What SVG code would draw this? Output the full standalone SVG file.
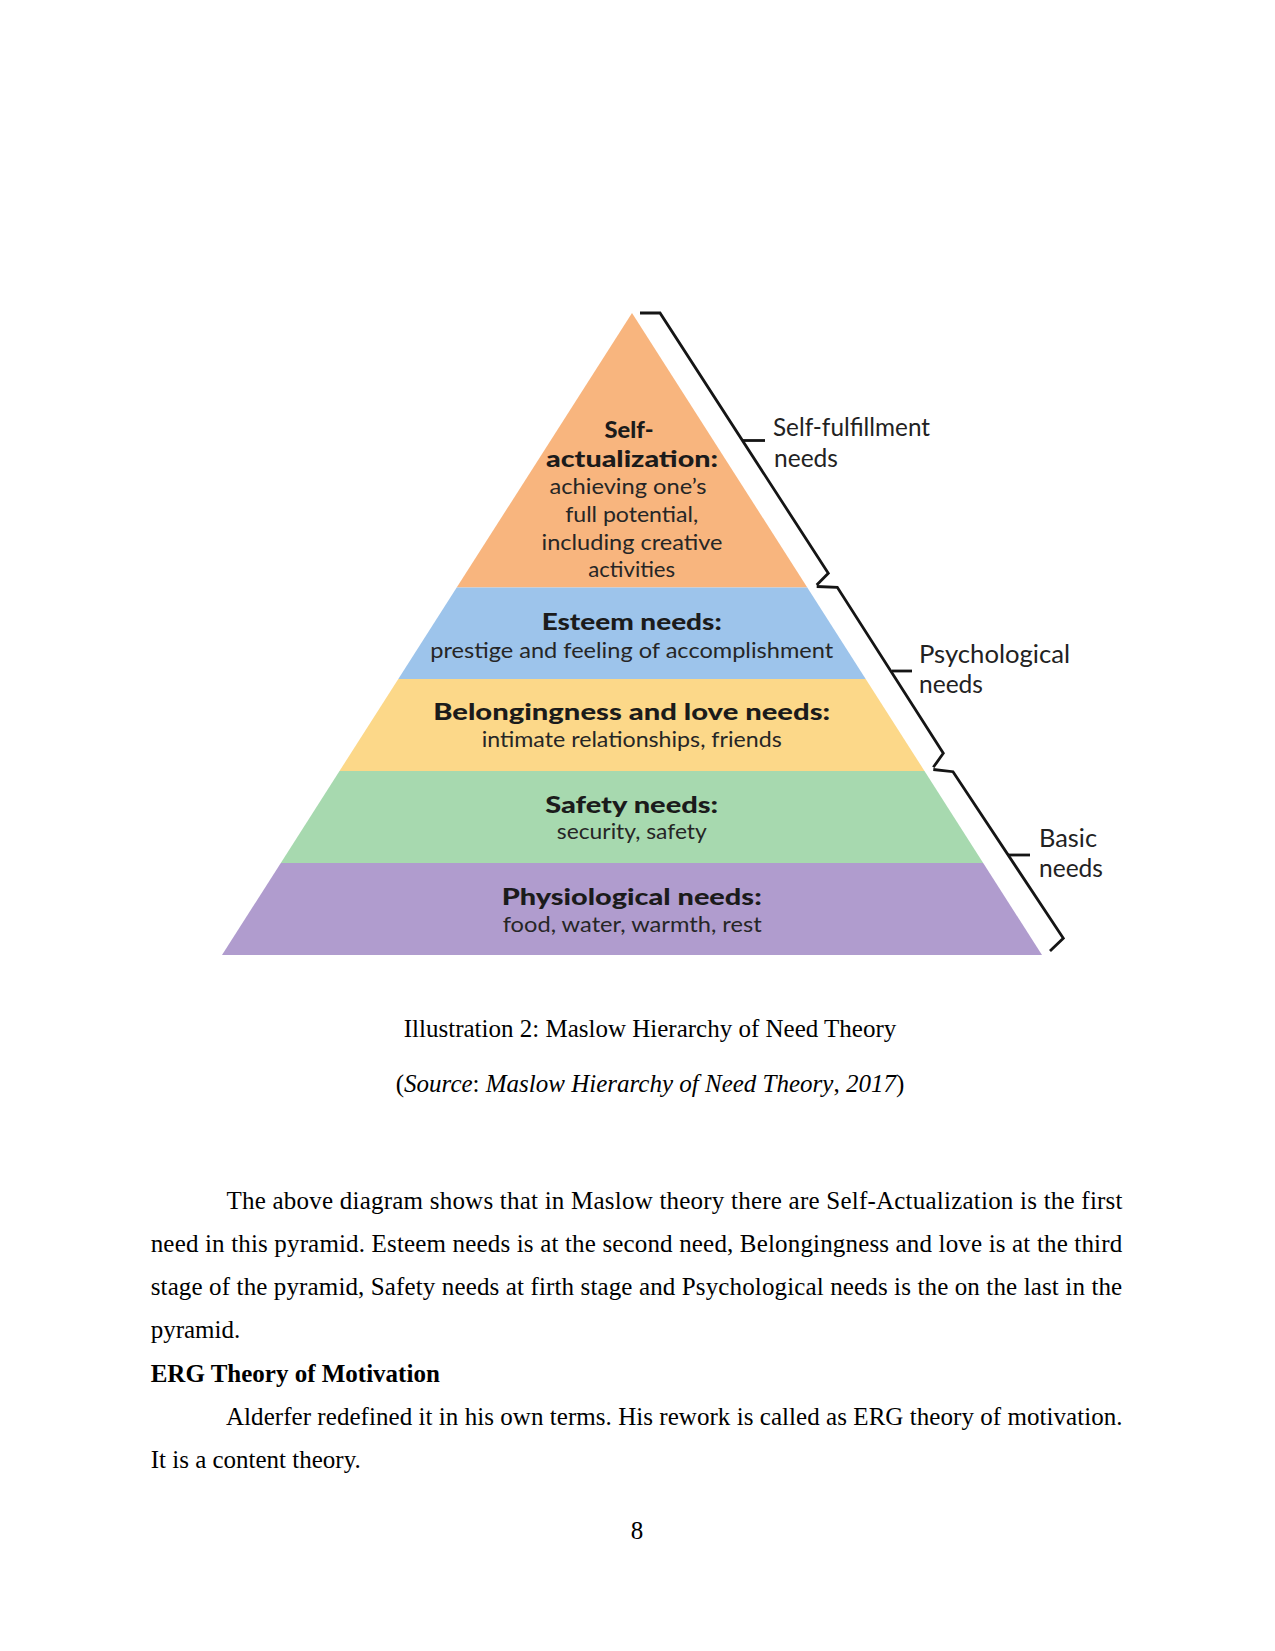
<svg xmlns="http://www.w3.org/2000/svg" width="1275" height="1651" viewBox="0 0 1275 1651">
<style>
.pt{font-family:Lato,"Open Sans","Liberation Sans",sans-serif;text-anchor:middle;fill:#1b1b1b}
.ph{font-weight:900;font-size:23px}
.pb{font-weight:400;font-size:22px;fill:#262626}
.side{font-family:Lato,"Open Sans","Liberation Sans",sans-serif;font-size:25px;fill:#222}
.br{fill:none;stroke:#151515;stroke-width:2.8;stroke-linejoin:miter;stroke-linecap:butt}
.doc{font-family:"Liberation Serif","Times New Roman",serif;font-size:25px;fill:#000}
</style>
<rect width="1275" height="1651" fill="#fff"/>

<g id="self-actualization">
<polygon points="632,313 807.3,587.5 456.7,587.5" fill="#F8B57E"/>
<text class="pt ph" x="629" y="437.7" textLength="49" lengthAdjust="spacingAndGlyphs">Self-</text>
<text class="pt ph" x="632" y="466.7" textLength="172" lengthAdjust="spacingAndGlyphs">actualization:</text>
<text class="pt pb" x="628" y="494" textLength="157" lengthAdjust="spacingAndGlyphs">achieving one’s</text>
<text class="pt pb" x="631.7" y="521.7" textLength="133" lengthAdjust="spacingAndGlyphs">full potential,</text>
<text class="pt pb" x="632" y="550" textLength="181" lengthAdjust="spacingAndGlyphs">including creative</text>
<text class="pt pb" x="631.7" y="576.7" textLength="87" lengthAdjust="spacingAndGlyphs">activities</text>
</g>

<g id="esteem">
<polygon points="456.7,587.5 807.3,587.5 865.7,679 398.3,679" fill="#9DC4EB"/>
<text class="pt ph" x="631.7" y="630" textLength="180" lengthAdjust="spacingAndGlyphs">Esteem needs:</text>
<text class="pt pb" x="631.7" y="658.3" textLength="403" lengthAdjust="spacingAndGlyphs">prestige and feeling of accomplishment</text>
</g>

<g id="belongingness">
<polygon points="398.3,679 865.7,679 924.5,771 339.5,771" fill="#FCD889"/>
<text class="pt ph" x="631.7" y="720" textLength="397" lengthAdjust="spacingAndGlyphs">Belongingness and love needs:</text>
<text class="pt pb" x="631.7" y="746.7" textLength="300" lengthAdjust="spacingAndGlyphs">intimate relationships, friends</text>
</g>

<g id="safety">
<polygon points="339.5,771 924.5,771 983.2,863 280.8,863" fill="#A7D9AF"/>
<text class="pt ph" x="631.7" y="813.3" textLength="173" lengthAdjust="spacingAndGlyphs">Safety needs:</text>
<text class="pt pb" x="631.8" y="838.5" textLength="150" lengthAdjust="spacingAndGlyphs">security, safety</text>
</g>

<g id="physiological">
<polygon points="280.8,863 983.2,863 1042,955 222,955" fill="#B09CCE"/>
<text class="pt ph" x="631.7" y="905" textLength="260" lengthAdjust="spacingAndGlyphs">Physiological needs:</text>
<text class="pt pb" x="632.2" y="931.7" textLength="259" lengthAdjust="spacingAndGlyphs">food, water, warmth, rest</text>
</g>

<g id="connectors">
<path class="br" d="M640,313 L660,313 L828.3,573.3 L816.7,585"/>
<path class="br" d="M743,440.5 L765,440.5"/>
<path class="br" d="M816.7,586.5 L837.3,587.3 L943.3,753.3 L933.3,767.3"/>
<path class="br" d="M892,671 L912,671"/>
<path class="br" d="M933.3,769.5 L953,771.7 L1063.3,938.3 L1050,951"/>
<path class="br" d="M1008,855 L1030,855"/>
</g>

<g id="label-self-fulfillment">
<text class="side" x="773" y="435.7" textLength="157" lengthAdjust="spacingAndGlyphs">Self-fulfillment</text>
<text class="side" x="774" y="466.7" textLength="64" lengthAdjust="spacingAndGlyphs">needs</text>
</g>
<g id="label-psychological">
<text class="side" x="919" y="662.7" textLength="151" lengthAdjust="spacingAndGlyphs">Psychological</text>
<text class="side" x="919" y="693.3" textLength="64" lengthAdjust="spacingAndGlyphs">needs</text>
</g>
<g id="label-basic">
<text class="side" x="1039" y="846.7" textLength="58" lengthAdjust="spacingAndGlyphs">Basic</text>
<text class="side" x="1039" y="876.7" textLength="64" lengthAdjust="spacingAndGlyphs">needs</text>
</g>

<g id="caption">
<text class="doc" x="650" y="1036.7" text-anchor="middle">Illustration 2: Maslow Hierarchy of Need Theory</text>
<text class="doc" x="650" y="1091.7" text-anchor="middle">(<tspan font-style="italic">Source</tspan>: <tspan font-style="italic">Maslow Hierarchy of Need Theory</tspan>, <tspan font-style="italic">2017</tspan>)</text>
</g>

<g id="body">
<text class="doc" x="226.5" y="1208.5" textLength="896" lengthAdjust="spacing">The above diagram shows that in Maslow theory there are Self-Actualization is the first</text>
<text class="doc" x="150.7" y="1251.8" textLength="971.5" lengthAdjust="spacing">need in this pyramid. Esteem needs is at the second need, Belongingness and love is at the third</text>
<text class="doc" x="150.7" y="1295" textLength="971.5" lengthAdjust="spacing">stage of the pyramid, Safety needs at firth stage and Psychological needs is the on the last in the</text>
<text class="doc" x="150.7" y="1338.3">pyramid.</text>
<text class="doc" x="150.7" y="1382.3" font-weight="bold">ERG Theory of Motivation</text>
<text class="doc" x="226" y="1425" textLength="896.5" lengthAdjust="spacing">Alderfer redefined it in his own terms. His rework is called as ERG theory of motivation.</text>
<text class="doc" x="150.7" y="1467.5">It is a content theory.</text>
<text class="doc" x="637" y="1539.3" text-anchor="middle">8</text>
</g>
</svg>
